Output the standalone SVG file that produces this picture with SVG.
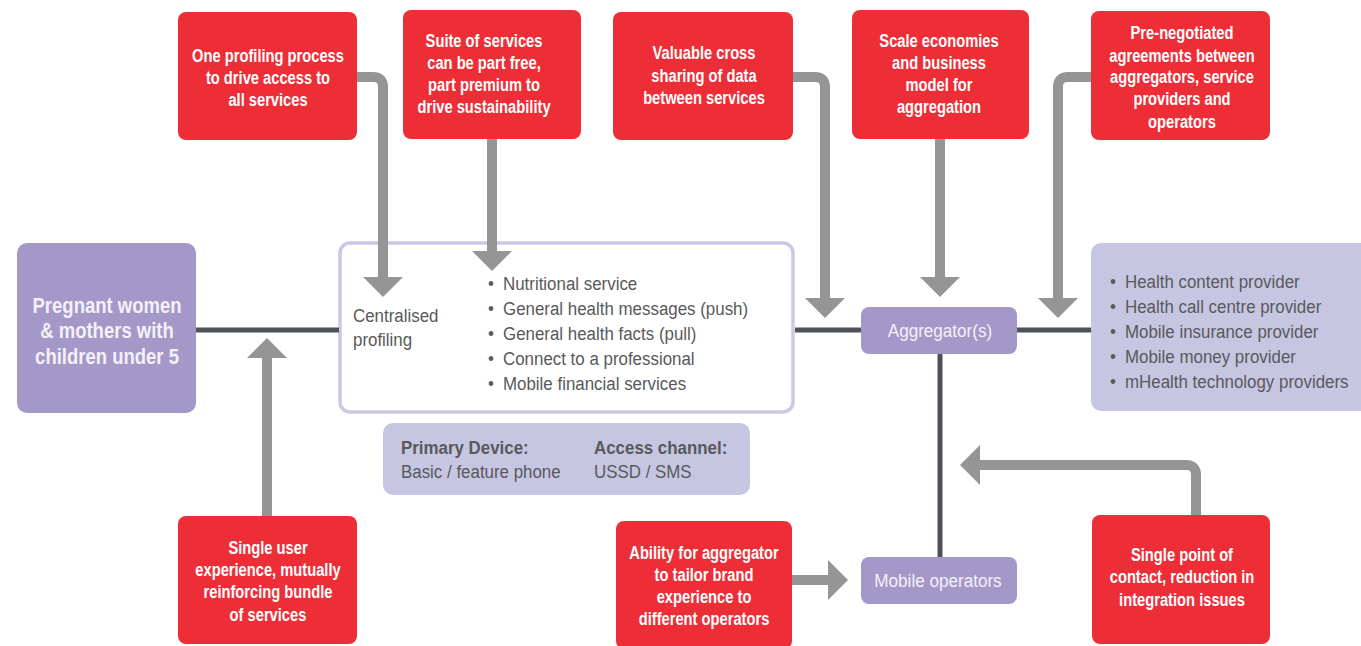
<svg xmlns="http://www.w3.org/2000/svg" width="1361" height="646" viewBox="0 0 1361 646">
  <style>
    text { font-family: "Liberation Sans", Arial, sans-serif; }
    .red { fill: #ee2e37; }
    .red-t { fill: #ffffff; font-weight: bold; font-size: 17.5px; text-anchor: middle; }
    .lilac { fill: #a498c8; }
    .pale { fill: #c7c6e2; }
    .body { fill: #58595b; font-size: 19px; }
    .bold { font-weight: bold; }
    .node-t { fill: #f3f1f9; font-size: 19px; text-anchor: middle; }
    .big-t { fill: #f3f1f9; font-size: 21.5px; font-weight: bold; text-anchor: middle; }
    .link { fill: none; stroke: #4e5156; stroke-width: 5; }
    .flow { fill: none; stroke: #959595; stroke-width: 10; stroke-linejoin: round; }
  </style>
  <defs>
    <marker id="head" markerUnits="userSpaceOnUse" markerWidth="20" markerHeight="40" viewBox="0 0 20 40" refX="0" refY="20" orient="auto">
      <path d="M0,0 L20,20 L0,40 Z" fill="#959595"/>
    </marker>
  </defs>

  <!-- user segment -->
  <g id="users">
    <rect class="lilac" x="17" y="243" width="179" height="170" rx="10"/>
    <text class="big-t" transform="translate(107 313) scale(0.86 1)">Pregnant women</text>
    <text class="big-t" transform="translate(107 338) scale(0.86 1)">&amp; mothers with</text>
    <text class="big-t" transform="translate(107 364) scale(0.86 1)">children under 5</text>
  </g>

  <!-- service bundle -->
  <g id="services">
    <rect x="340" y="243" width="453" height="169" rx="10" fill="#ffffff" stroke="#c9c8e5" stroke-width="3.5"/>
    <text class="body" transform="translate(353 322) scale(0.89 1)">Centralised</text>
    <text class="body" transform="translate(353 346) scale(0.89 1)">profiling</text>
    <text class="body" transform="translate(488 290) scale(0.89 1)">•</text>
    <text class="body" transform="translate(503 290) scale(0.89 1)">Nutritional service</text>
    <text class="body" transform="translate(488 315) scale(0.89 1)">•</text>
    <text class="body" transform="translate(503 315) scale(0.89 1)">General health messages (push)</text>
    <text class="body" transform="translate(488 340) scale(0.89 1)">•</text>
    <text class="body" transform="translate(503 340) scale(0.89 1)">General health facts (pull)</text>
    <text class="body" transform="translate(488 365) scale(0.89 1)">•</text>
    <text class="body" transform="translate(503 365) scale(0.89 1)">Connect to a professional</text>
    <text class="body" transform="translate(488 390) scale(0.89 1)">•</text>
    <text class="body" transform="translate(503 390) scale(0.89 1)">Mobile financial services</text>
  </g>

  <!-- device and channel -->
  <g id="device">
    <rect class="pale" x="383" y="423" width="367" height="72" rx="10"/>
    <text class="body bold" transform="translate(401 454) scale(0.89 1)">Primary Device:</text>
    <text class="body" transform="translate(401 478) scale(0.89 1)">Basic / feature phone</text>
    <text class="body bold" transform="translate(594 454) scale(0.89 1)">Access channel:</text>
    <text class="body" transform="translate(594 478) scale(0.89 1)">USSD / SMS</text>
  </g>

  <!-- aggregator -->
  <g id="aggregator">
    <rect class="lilac" x="861" y="307" width="156" height="47" rx="8"/>
    <text class="node-t" transform="translate(940 337) scale(0.9 1)">Aggregator(s)</text>
  </g>

  <!-- operators -->
  <g id="operators">
    <rect class="lilac" x="861" y="557" width="156" height="47" rx="8"/>
    <text class="node-t" transform="translate(938 587) scale(0.9 1)">Mobile operators</text>
  </g>

  <!-- providers -->
  <g id="providers">
    <rect class="pale" x="1091" y="243" width="280" height="168" rx="10"/>
    <text class="body" transform="translate(1110 288) scale(0.89 1)">•</text>
    <text class="body" transform="translate(1125 288) scale(0.89 1)">Health content provider</text>
    <text class="body" transform="translate(1110 313) scale(0.89 1)">•</text>
    <text class="body" transform="translate(1125 313) scale(0.89 1)">Health call centre provider</text>
    <text class="body" transform="translate(1110 338) scale(0.89 1)">•</text>
    <text class="body" transform="translate(1125 338) scale(0.89 1)">Mobile insurance provider</text>
    <text class="body" transform="translate(1110 363) scale(0.89 1)">•</text>
    <text class="body" transform="translate(1125 363) scale(0.89 1)">Mobile money provider</text>
    <text class="body" transform="translate(1110 388) scale(0.89 1)">•</text>
    <text class="body" transform="translate(1125 388) scale(0.89 1)">mHealth technology providers</text>
  </g>

  <!-- benefit callouts -->
  <g id="profiling-benefit">
    <rect class="red" x="178" y="12" width="179" height="128" rx="8"/>
    <text class="red-t" transform="translate(268 62) scale(0.84 1)">One profiling process</text>
    <text class="red-t" transform="translate(268 84) scale(0.84 1)">to drive access to</text>
    <text class="red-t" transform="translate(268 106) scale(0.84 1)">all services</text>
  </g>
  <g id="suite-benefit">
    <rect class="red" x="403" y="10" width="178" height="129" rx="8"/>
    <text class="red-t" transform="translate(484 47) scale(0.84 1)">Suite of services</text>
    <text class="red-t" transform="translate(484 69) scale(0.84 1)">can be part free,</text>
    <text class="red-t" transform="translate(484 91) scale(0.84 1)">part premium to</text>
    <text class="red-t" transform="translate(484 113) scale(0.84 1)">drive sustainability</text>
  </g>
  <g id="data-benefit">
    <rect class="red" x="613" y="12" width="180" height="128" rx="8"/>
    <text class="red-t" transform="translate(704 59) scale(0.84 1)">Valuable cross</text>
    <text class="red-t" transform="translate(704 82) scale(0.84 1)">sharing of data</text>
    <text class="red-t" transform="translate(704 104) scale(0.84 1)">between services</text>
  </g>
  <g id="scale-benefit">
    <rect class="red" x="852" y="10" width="177" height="129" rx="8"/>
    <text class="red-t" transform="translate(939 47) scale(0.84 1)">Scale economies</text>
    <text class="red-t" transform="translate(939 69) scale(0.84 1)">and business</text>
    <text class="red-t" transform="translate(939 91) scale(0.84 1)">model for</text>
    <text class="red-t" transform="translate(939 113) scale(0.84 1)">aggregation</text>
  </g>
  <g id="agreements-benefit">
    <rect class="red" x="1091" y="11" width="179" height="129" rx="8"/>
    <text class="red-t" transform="translate(1182 39) scale(0.84 1)">Pre-negotiated</text>
    <text class="red-t" transform="translate(1182 62) scale(0.84 1)">agreements between</text>
    <text class="red-t" transform="translate(1182 83) scale(0.84 1)">aggregators, service</text>
    <text class="red-t" transform="translate(1182 105) scale(0.84 1)">providers and</text>
    <text class="red-t" transform="translate(1182 128) scale(0.84 1)">operators</text>
  </g>
  <g id="experience-benefit">
    <rect class="red" x="178" y="516" width="179" height="128" rx="8"/>
    <text class="red-t" transform="translate(268 554) scale(0.84 1)">Single user</text>
    <text class="red-t" transform="translate(268 576) scale(0.84 1)">experience, mutually</text>
    <text class="red-t" transform="translate(268 598) scale(0.84 1)">reinforcing bundle</text>
    <text class="red-t" transform="translate(268 621) scale(0.84 1)">of services</text>
  </g>
  <g id="brand-benefit">
    <rect class="red" x="616" y="521" width="176" height="128" rx="8"/>
    <text class="red-t" transform="translate(704 559) scale(0.84 1)">Ability for aggregator</text>
    <text class="red-t" transform="translate(704 581) scale(0.84 1)">to tailor brand</text>
    <text class="red-t" transform="translate(704 603) scale(0.84 1)">experience to</text>
    <text class="red-t" transform="translate(704 625) scale(0.84 1)">different operators</text>
  </g>
  <g id="contact-benefit">
    <rect class="red" x="1092" y="515" width="178" height="129" rx="8"/>
    <text class="red-t" transform="translate(1182 561) scale(0.84 1)">Single point of</text>
    <text class="red-t" transform="translate(1182 583) scale(0.84 1)">contact, reduction in</text>
    <text class="red-t" transform="translate(1182 606) scale(0.84 1)">integration issues</text>
  </g>

  <!-- connectors, drawn last so arrowheads sit on top of the boxes -->
  <g id="connectors">
    <path class="link" d="M196,330 H339"/>
    <path class="link" d="M795,330 H861"/>
    <path class="link" d="M1017,330 H1091"/>
    <path class="link" d="M940,354 V557"/>

    <path class="flow" d="M357,77 H373 Q383,77 383,87 V277" marker-end="url(#head)"/>
    <path class="flow" d="M492,139 V251" marker-end="url(#head)"/>
    <path class="flow" d="M793,77 H815 Q825,77 825,87 V298" marker-end="url(#head)"/>
    <path class="flow" d="M940,139 V277" marker-end="url(#head)"/>
    <path class="flow" d="M1091,77 H1068 Q1058,77 1058,87 V298" marker-end="url(#head)"/>
    <path class="flow" d="M267,516 V358" marker-end="url(#head)"/>
    <path class="flow" d="M792,580 H828" marker-end="url(#head)"/>
    <path class="flow" d="M1196,515 V475 Q1196,465 1186,465 H980" marker-end="url(#head)"/>
  </g>
</svg>
